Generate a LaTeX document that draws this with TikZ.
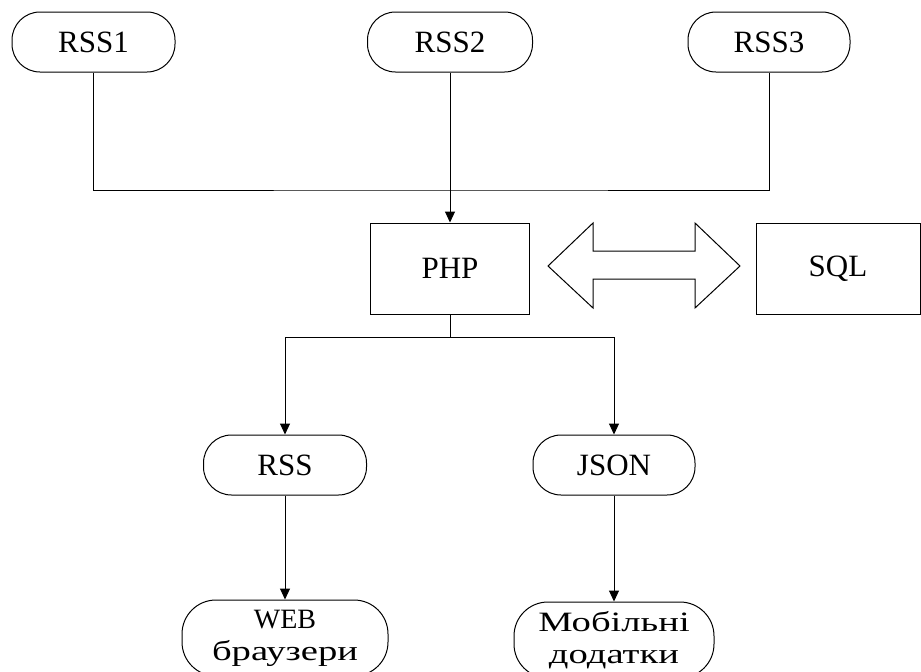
\documentclass[tikz,border=0pt]{standalone}
\usepackage{fontspec}
\setmainfont{Liberation Serif}
\newfontfamily\cyrwide[FakeStretch=1.38]{Liberation Serif}
\usetikzlibrary{arrows.meta}
\begin{document}
\begin{tikzpicture}[x=1pt,y=-1pt,
  every node/.style={font=\fontsize{31}{34}\selectfont},
  pill/.style={draw, line width=1pt, rounded corners=28pt, minimum height=60pt, inner sep=0pt, align=center},
  lowpill/.style={pill, minimum height=76pt, rounded corners=34pt, font=\fontsize{28}{32}\selectfont},
  box/.style={draw, line width=1pt, minimum height=91pt, inner sep=0pt},
  conn/.style={line width=1pt},
  arr/.style={conn, -{Triangle[length=11pt,width=10pt]}}]
\useasboundingbox (0,0) rectangle (921,672);
\clip (0,0) rectangle (921,672);
\node[pill, minimum width=163pt] (r1) at (93.5,42) {RSS1};
\node[pill, minimum width=165pt] (r2) at (450,42) {RSS2};
\node[pill, minimum width=162pt] (r3) at (769,42) {RSS3};
\node[box, minimum width=159pt] (php) at (450,268.5) {PHP};
\node[box, minimum width=164pt] (sql) at (838,268.5) {SQL};
\node[pill, minimum width=163pt] (rss) at (285,465) {RSS};
\node[pill, minimum width=162pt] (json) at (614,465) {JSON};
\node[lowpill, minimum width=206pt] (web) at (285,638) {WEB\\{\cyrwide браузери}};
\node[lowpill, minimum width=200pt] (mob) at (614,640) {{\cyrwide Мобільні}\\{\cyrwide додатки}};
\coordinate (b) at (450,190);
\coordinate (c) at (450,337);
\draw[conn] (r1.south) |- (b) -| (r3.south);
\draw[arr] (r2.south) -- (php.north);
\draw[conn] (php.south) -- (c);
\draw[arr] (c) -| (rss.north);
\draw[arr] (c) -| (json.north);
\draw[arr] (rss.south) -- (web.north);
\draw[arr] (json.south) -- (mob.north);
\draw[line width=1pt, line join=miter] (548,266) -- (593,223) -- (593,251) -- (695,251) -- (695,223) -- (740,266) -- (695,308) -- (695,279) -- (593,279) -- (593,308) -- cycle;
\end{tikzpicture}
\end{document}
